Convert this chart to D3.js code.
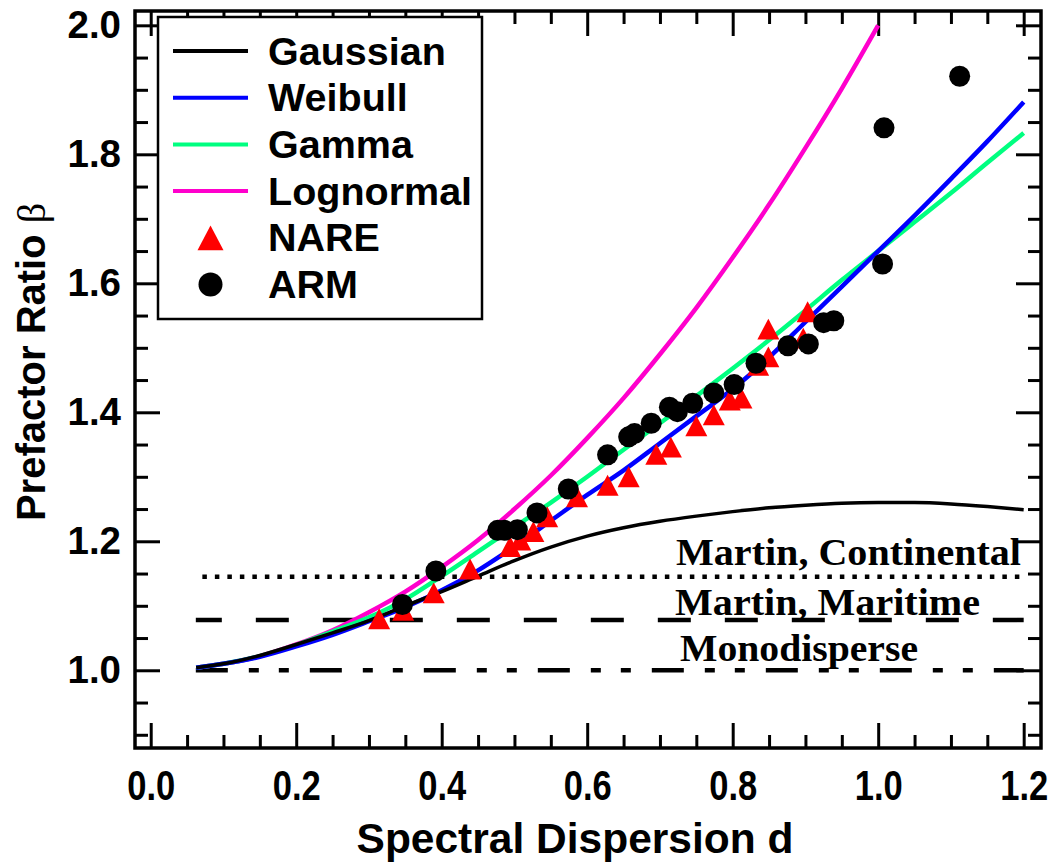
<!DOCTYPE html>
<html>
<head>
<meta charset="utf-8">
<script src="https://cdn.jsdelivr.net/npm/d3@7"></script>
<style>
  body { margin: 0; background: #fff; }
  svg { display: block; }
  .tick text { font-family: "Liberation Sans", Arial, sans-serif; font-weight: bold; fill: #000; }
</style>
</head>
<body>
<script>
// curves
var curveD = [0.0625, 0.1, 0.15, 0.2, 0.25, 0.3, 0.35, 0.4, 0.45, 0.5, 0.55, 0.6, 0.65, 0.7, 0.75, 0.8, 0.85, 0.9, 0.95, 1.0, 1.05, 1.1, 1.15, 1.2];
var gaussian = [1.004, 1.010, 1.023, 1.040, 1.058, 1.077, 1.100, 1.122, 1.146, 1.170, 1.191, 1.208, 1.221, 1.231, 1.239, 1.246, 1.252, 1.256, 1.259, 1.260, 1.260, 1.258, 1.254, 1.249];
var weibull  = [1.004, 1.010, 1.021, 1.037, 1.055, 1.076, 1.098, 1.124, 1.155, 1.192, 1.232, 1.272, 1.310, 1.352, 1.394, 1.436, 1.485, 1.540, 1.595, 1.650, 1.705, 1.762, 1.820, 1.881];
var gamma    = [1.004, 1.010, 1.022, 1.039, 1.060, 1.082, 1.110, 1.146, 1.184, 1.222, 1.260, 1.300, 1.342, 1.383, 1.425, 1.468, 1.512, 1.558, 1.605, 1.650, 1.695, 1.740, 1.787, 1.833];
var lognormD = [0.0625, 0.1, 0.15, 0.2, 0.25, 0.3, 0.35, 0.4, 0.45, 0.5, 0.55, 0.6, 0.65, 0.7, 0.75, 0.8, 0.85, 0.9, 0.95, 1.0];
var lognorm  = [1.004, 1.010, 1.022, 1.040, 1.062, 1.090, 1.122, 1.160, 1.202, 1.250, 1.302, 1.360, 1.422, 1.490, 1.562, 1.640, 1.722, 1.810, 1.902, 2.000];

// measurements
var nareD = [0.314, 0.347, 0.389, 0.439, 0.494, 0.508, 0.526, 0.545, 0.586, 0.628, 0.657, 0.695, 0.715, 0.750, 0.774, 0.796, 0.812, 0.835, 0.849, 0.849, 0.897, 0.903];
var nareB = [1.080, 1.093, 1.120, 1.157, 1.192, 1.202, 1.215, 1.238, 1.269, 1.287, 1.300, 1.335, 1.346, 1.379, 1.396, 1.419, 1.422, 1.473, 1.486, 1.529, 1.515, 1.556];
var armD = [0.346, 0.392, 0.477, 0.486, 0.504, 0.531, 0.574, 0.628, 0.657, 0.665, 0.688, 0.713, 0.724, 0.745, 0.774, 0.802, 0.832, 0.876, 0.904, 0.925, 0.939, 1.006, 1.008, 1.112];
var armB = [1.102, 1.154, 1.217, 1.217, 1.218, 1.244, 1.281, 1.334, 1.362, 1.367, 1.383, 1.408, 1.401, 1.414, 1.430, 1.443, 1.476, 1.503, 1.506, 1.539, 1.542, 1.630, 1.841, 1.921];

// reference levels
var refNames = ["Martin, Continental", "Martin, Maritime", "Monodisperse"];
var refValues = [1.145, 1.078, 1.0];
var refStart = [0.071, 0.062, 0.062];
var refEnd = 1.2;

var xTicks = [0.0, 0.2, 0.4, 0.6, 0.8, 1.0, 1.2];
var yTicks = [1.0, 1.2, 1.4, 1.6, 1.8, 2.0];
var legendNames = ["Gaussian", "Weibull", "Gamma", "Lognormal", "NARE", "ARM"];

var w = 1056, h = 867;
var svg = d3.select("body").append("svg").attr("width", w).attr("height", h);

var x = d3.scaleLinear().domain([-0.0216, 1.2238]).range([135, 1041]);
var y = d3.scaleLinear().domain([0.8795, 2.0222]).range([748, 11]);

var xMinor = d3.range(0, 1.2001, 0.05).filter(function (v) { return Math.abs(v * 5 - Math.round(v * 5)) > 0.01; });
var yMinor = d3.range(0.9, 2.0001, 0.05).filter(function (v) { return Math.abs(v * 5 - Math.round(v * 5)) > 0.01; });

function addAxis(axis, tr, labels) {
    var g = svg.append("g").attr("transform", tr).call(axis);
    g.select(".domain").remove();
    g.selectAll(".tick line").attr("stroke", "#000").attr("stroke-width", 3);
    if (!labels) g.selectAll(".tick text").remove();
    return g;
}

// major + minor ticks, all four sides, pointing inward
var gx = addAxis(d3.axisBottom(x).tickValues(xTicks).tickSize(-25).tickPadding(22).tickFormat(d3.format(".1f")), "translate(0,748)", true);
gx.selectAll(".tick text").attr("font-size", 42).attr("textLength", 48).attr("lengthAdjust", "spacingAndGlyphs");
addAxis(d3.axisBottom(x).tickValues(xMinor).tickSize(-13), "translate(0,748)", false);
addAxis(d3.axisTop(x).tickValues(xTicks).tickSize(-25), "translate(0,11)", false);
addAxis(d3.axisTop(x).tickValues(xMinor).tickSize(-13), "translate(0,11)", false);

var gy = addAxis(d3.axisLeft(y).tickValues(yTicks).tickSize(-25).tickPadding(14).tickFormat(d3.format(".1f")), "translate(135,0)", true);
gy.selectAll(".tick text").attr("font-size", 38.5);
addAxis(d3.axisLeft(y).tickValues(yMinor).tickSize(-13), "translate(135,0)", false);
addAxis(d3.axisRight(y).tickValues(yTicks).tickSize(-25), "translate(1041,0)", false);
addAxis(d3.axisRight(y).tickValues(yMinor).tickSize(-13), "translate(1041,0)", false);

// frame
svg.append("rect")
    .attr("x", 135).attr("y", 11)
    .attr("width", 1041 - 135).attr("height", 748 - 11)
    .attr("fill", "none").attr("stroke", "#000").attr("stroke-width", 3.5);

// axis titles
svg.append("text")
    .attr("x", 575).attr("y", 853)
    .attr("text-anchor", "middle")
    .attr("font-family", "Liberation Sans, Arial, sans-serif")
    .attr("font-weight", "bold").attr("font-size", 42.5)
    .text("Spectral Dispersion d");

var ylab = svg.append("text")
    .attr("transform", "translate(45,362) rotate(-90)")
    .attr("text-anchor", "middle")
    .attr("font-family", "Liberation Sans, Arial, sans-serif")
    .attr("font-weight", "bold").attr("font-size", 40);
ylab.append("tspan").text("Prefactor Ratio ");
ylab.append("tspan").attr("font-family", "Liberation Serif, serif").attr("font-weight", "normal").text("\u03b2");

// reference lines
var refDash = ["4.5,8", "33,34", "32,21,10,20,10,21"];
var refOffset = [0, 7, 0];
refValues.forEach(function (v, i) {
    svg.append("line")
        .attr("x1", x(refStart[i])).attr("x2", x(refEnd))
        .attr("y1", y(v)).attr("y2", y(v))
        .attr("stroke", "#000").attr("stroke-width", 4.5)
        .attr("stroke-dasharray", refDash[i])
        .attr("stroke-dashoffset", refOffset[i]);
});

// curves
var line = d3.line()
    .x(function (d) { return x(d[0]); })
    .y(function (d) { return y(d[1]); })
    .curve(d3.curveMonotoneX);

function zip(a, b) { return a.map(function (v, i) { return [v, b[i]]; }); }

var curves = [
    { data: zip(curveD, gaussian), color: "#000000", width: 3.5 },
    { data: zip(curveD, weibull), color: "#0000ff", width: 4.5 },
    { data: zip(curveD, gamma), color: "#00ff80", width: 4.5 },
    { data: zip(lognormD, lognorm), color: "#ff00cc", width: 4.5 }
];
// draw the colored ones first so the gaussian sits on top at small d
[3, 2, 1, 0].forEach(function (k) {
    svg.append("path")
        .datum(curves[k].data)
        .attr("d", line)
        .attr("fill", "none")
        .attr("stroke", curves[k].color)
        .attr("stroke-width", curves[k].width);
});

function triPath(cx, cy, s) {
    var hh = s * 0.95;
    return "M" + cx + "," + (cy - hh / 2) + "L" + (cx + s / 2) + "," + (cy + hh / 2) + "L" + (cx - s / 2) + "," + (cy + hh / 2) + "Z";
}

// NARE triangles
svg.append("g").selectAll("path")
    .data(zip(nareD, nareB)).enter()
    .append("path")
    .attr("d", function (d) { return triPath(x(d[0]), y(d[1]), 22); })
    .attr("fill", "#ff0000");

// ARM circles
svg.append("g").selectAll("circle")
    .data(zip(armD, armB)).enter()
    .append("circle")
    .attr("cx", function (d) { return x(d[0]); })
    .attr("cy", function (d) { return y(d[1]); })
    .attr("r", 10.5)
    .attr("fill", "#000");

// reference labels
var refLab = [
    { x: 1021, y: 565, anchor: "end", len: 345 },
    { x: 675, y: 615, anchor: "start", len: 305 },
    { x: 680, y: 661, anchor: "start", len: 238 }
];
refNames.forEach(function (t, i) {
    svg.append("text")
        .attr("x", refLab[i].x).attr("y", refLab[i].y)
        .attr("text-anchor", refLab[i].anchor)
        .attr("font-family", "Liberation Serif, Times New Roman, serif")
        .attr("font-weight", "bold").attr("font-size", 38)
        .attr("textLength", refLab[i].len).attr("lengthAdjust", "spacingAndGlyphs")
        .text(t);
});

// legend
var lg = svg.append("g");
lg.append("rect")
    .attr("x", 158).attr("y", 17).attr("width", 324).attr("height", 302)
    .attr("fill", "#fff").attr("stroke", "#000").attr("stroke-width", 2.5);

var rowY = d3.range(6).map(function (i) { return 51 + i * 46.7; });
legendNames.forEach(function (name, i) {
    var cy = rowY[i];
    if (i < 4) {
        lg.append("line")
            .attr("x1", 173).attr("x2", 248).attr("y1", cy).attr("y2", cy)
            .attr("stroke", curves[i].color).attr("stroke-width", 4);
    } else if (i === 4) {
        lg.append("path").attr("d", triPath(210.5, cy, 26)).attr("fill", "#ff0000");
    } else {
        lg.append("circle").attr("cx", 210.5).attr("cy", cy).attr("r", 12).attr("fill", "#000");
    }
    lg.append("text")
        .attr("x", 268).attr("y", cy + 13.5)
        .attr("font-family", "Liberation Sans, Arial, sans-serif")
        .attr("font-weight", "bold").attr("font-size", 39.5)
        .text(name);
});
</script>
</body>
</html>
